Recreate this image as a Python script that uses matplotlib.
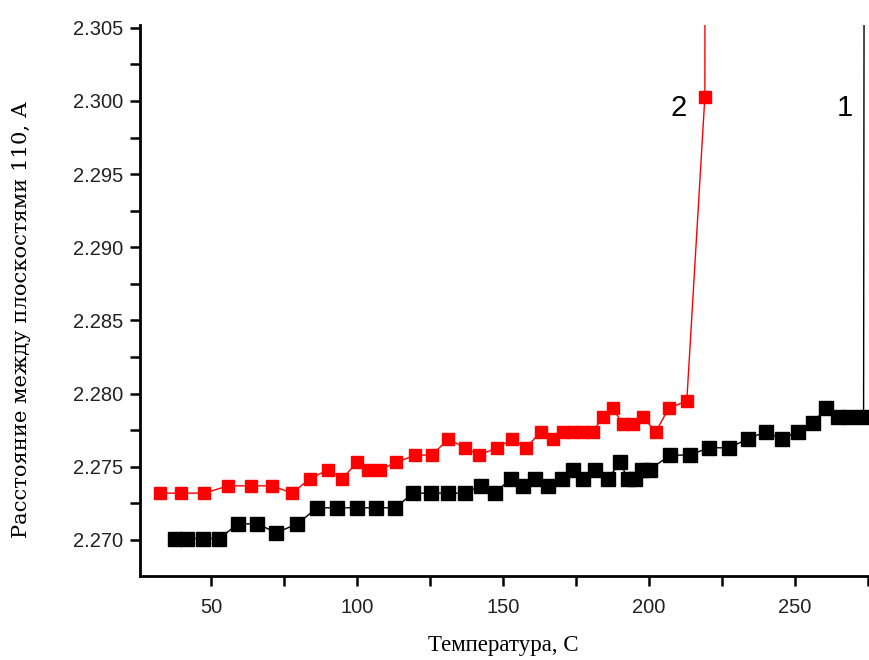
import matplotlib.pyplot as plt
from matplotlib.ticker import MultipleLocator, FormatStrFormatter

# curve 1 (black)
temp1 = [37.7, 41.8, 47.3, 52.7, 59.2, 65.8, 72.3, 79.5, 86.3, 93.2, 100.0, 106.5, 113.0,
         119.2, 125.3, 131.2, 137.0, 142.5, 147.3, 152.7, 156.8, 161.0, 165.4, 170.2, 174.0,
         177.4, 181.5, 186.0, 190.1, 192.8, 195.2, 197.6, 200.3, 207.2, 214.0, 220.5, 227.4,
         233.9, 240.1, 245.5, 251.0, 256.2, 260.6, 264.7, 268.8, 273.6, 273.9]
d1 = [2.2701, 2.2701, 2.2701, 2.2701, 2.2711, 2.2711, 2.2705, 2.2711, 2.2722, 2.2722, 2.2722,
      2.2722, 2.2722, 2.2732, 2.2732, 2.2732, 2.2732, 2.2737, 2.2732, 2.2742, 2.2737, 2.2742,
      2.2737, 2.2742, 2.2748, 2.2742, 2.2748, 2.2742, 2.2753, 2.2742, 2.2742, 2.2748, 2.2748,
      2.2758, 2.2758, 2.2763, 2.2763, 2.2769, 2.2774, 2.2769, 2.2774, 2.2780, 2.2790, 2.2784,
      2.2784, 2.2784, 2.33]

# curve 2 (red)
temp2 = [32.5, 39.7, 47.6, 55.8, 63.7, 70.9, 77.7, 83.9, 90.1, 94.9, 100.0, 103.8, 107.9,
         113.4, 119.9, 125.7, 131.2, 137.0, 141.8, 147.9, 153.1, 157.9, 163.0, 167.1, 170.5,
         174.0, 177.4, 180.8, 184.2, 187.7, 191.1, 194.5, 197.9, 202.4, 206.8, 213.0, 219.2, 219.3]
d2 = [2.2732, 2.2732, 2.2732, 2.2737, 2.2737, 2.2737, 2.2732, 2.2742, 2.2748, 2.2742, 2.2753,
      2.2748, 2.2748, 2.2753, 2.2758, 2.2758, 2.2769, 2.2763, 2.2758, 2.2763, 2.2769, 2.2763,
      2.2774, 2.2769, 2.2774, 2.2774, 2.2774, 2.2774, 2.2784, 2.2790, 2.2779, 2.2779, 2.2784,
      2.2774, 2.2790, 2.2795, 2.3003, 2.33]

# curve labels
labels = ['2', '1']
label_x = [210.3, 267.1]
label_y = [2.2995, 2.2995]

fig = plt.figure(figsize=(8.7, 6.6), dpi=100)
ax = fig.add_axes([0.161, 0.1273, 0.839, 0.835])

ax.plot(temp1, d1, color='black', lw=1, marker='s', ms=9.5)
ax.plot(temp2, d2, color='#ff0000', lw=1, marker='s', ms=8.5)

ax.set_xlim(25.6, 275.8)
ax.set_ylim(2.26754, 2.3052)

ax.xaxis.set_major_locator(MultipleLocator(50))
ax.xaxis.set_minor_locator(MultipleLocator(25))
ax.yaxis.set_major_locator(MultipleLocator(0.005))
ax.yaxis.set_minor_locator(MultipleLocator(0.0025))
ax.yaxis.set_major_formatter(FormatStrFormatter('%.3f'))

for s in ['top', 'right']:
    ax.spines[s].set_visible(False)
for s in ['left', 'bottom']:
    ax.spines[s].set_linewidth(2)

ax.tick_params(which='both', direction='out', width=1.8, length=7, labelsize=14.5)
ax.tick_params(axis='x', pad=9)
ax.tick_params(axis='y', pad=5)
for lab in ax.get_xticklabels() + ax.get_yticklabels():
    lab.set_fontfamily('Liberation Sans')
    lab.set_color('#222222')

for t, x, y in zip(labels, label_x, label_y):
    ax.text(x, y, t, fontsize=21, family='Liberation Sans', ha='center', va='center')

fig.text(503 / 870, 1 - 646 / 660, 'Температура, С', family='Liberation Serif',
         fontsize=16.5, ha='center', va='center')
fig.text(22 / 870, 1 - 320 / 660, 'Расстояние между плоскостями 110, А', family='DejaVu Serif',
         fontsize=15.2, rotation=90, ha='center', va='center')

fig.savefig('out.png', dpi=100)
